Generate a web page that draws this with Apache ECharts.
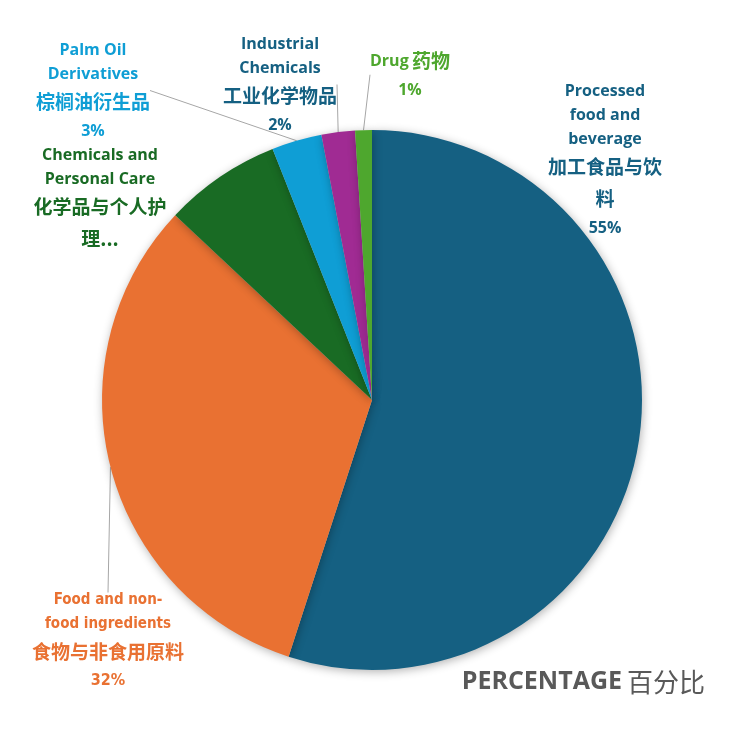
<!DOCTYPE html>
<html><head><meta charset="utf-8">
<script src="https://cdn.jsdelivr.net/npm/echarts@6/dist/echarts.min.js"></script>
<style>html,body{margin:0;padding:0;background:#fff}#c{width:740px;height:740px}</style>
</head><body><div id="c"></div>
<script>
const categoriesEn = ['Processed\nfood and\nbeverage', 'Food and non-\nfood ingredients', 'Chemicals and\nPersonal Care', 'Palm Oil\nDerivatives', 'Industrial\nChemicals', 'Drug'];
const categoriesCn = ['加工食品与饮\n料', '食物与非食用原料', '化学品与个人护\n理...', '棕榈油衍生品', '工业化学物品', '药物'];
const values = [55, 32, 7, 3, 2, 1];
const showPct = [true, true, false, true, true, true];
const colors = ['#156082', '#E97132', '#196B24', '#0F9ED5', '#A02B93', '#4EA72E'];
const labelColors = ['#156082', '#E97132', '#196B24', '#0F9ED5', '#156082', '#4EA72E'];
const labelPos = [[605, 160], [108, 641], [100, 199], [93, 91], [280, 85], [410, 74]];
const showLine = [false, true, false, true, true, true];

const FONT = '"Open Sans", "Noto Sans CJK SC", sans-serif';
const NARROW = '"DejaVu Sans Condensed", "Liberation Sans Narrow", "Open Sans", sans-serif';
const data = values.map((v, i) => ({
  name: categoriesEn[i],
  value: v,
  itemStyle: { color: colors[i] },
  labelLine: { show: showLine[i] },
  label: {
    overflow: 'none',
    formatter: function () {
      let s;
      if (i === 5) {
        s = '{en|' + categoriesEn[i] + '} {cn|' + categoriesCn[i] + '}';
      } else {
        s = categoriesEn[i].split('\n').map(t => '{en|' + t + '}').join('\n') + '\n' +
            categoriesCn[i].split('\n').map(t => '{cn|' + t + '}').join('\n');
      }
      if (showPct[i]) s += '\n{pc|' + v + '%}';
      return s;
    },
    rich: {
      en: { color: labelColors[i], fontFamily: i === 1 ? NARROW : FONT, fontWeight: 'bold', fontSize: i === 1 ? 15 : 16, lineHeight: 24, align: 'center' },
      cn: { color: labelColors[i], fontFamily: '"Noto Sans CJK SC", sans-serif', fontWeight: 'bold', fontSize: 19, lineHeight: 32, align: 'center' },
      pc: { color: labelColors[i], fontFamily: i === 1 ? NARROW : FONT, fontWeight: 'bold', fontSize: 16, lineHeight: 26, align: 'center' }
    }
  }
}));

const chart = echarts.init(document.getElementById('c'));
chart.setOption({
  animation: false,
  title: {
    text: '{a|PERCENTAGE} {b|百分比}',
    right: 30, bottom: 40,
    textStyle: {
      rich: {
        a: { fontFamily: FONT, fontSize: 25, fontWeight: 'bold', color: '#595959' },
        b: { fontFamily: '"Noto Sans CJK SC", sans-serif', fontSize: 26, fontWeight: 'normal', color: '#595959' }
      }
    }
  },
  series: [{
    type: 'pie',
    center: [372, 400],
    radius: [0, 270],
    startAngle: 90,
    clockwise: true,
    data: data,
    itemStyle: { shadowBlur: 10, shadowColor: 'rgba(0,0,0,0.3)', shadowOffsetX: 1, shadowOffsetY: 2 },
    label: { show: true, position: 'outside', align: 'center', overflow: 'none' },
    labelLine: { show: true, length: 0.1, length2: 0, lineStyle: { color: '#A6A6A6', width: 1 } },
    labelLayout: function (p) {
      const pos = labelPos[p.dataIndex];
      return { x: pos[0], y: pos[1], align: 'center', verticalAlign: 'middle' };
    },
    emphasis: { disabled: true }
  }]
});
</script></body></html>
